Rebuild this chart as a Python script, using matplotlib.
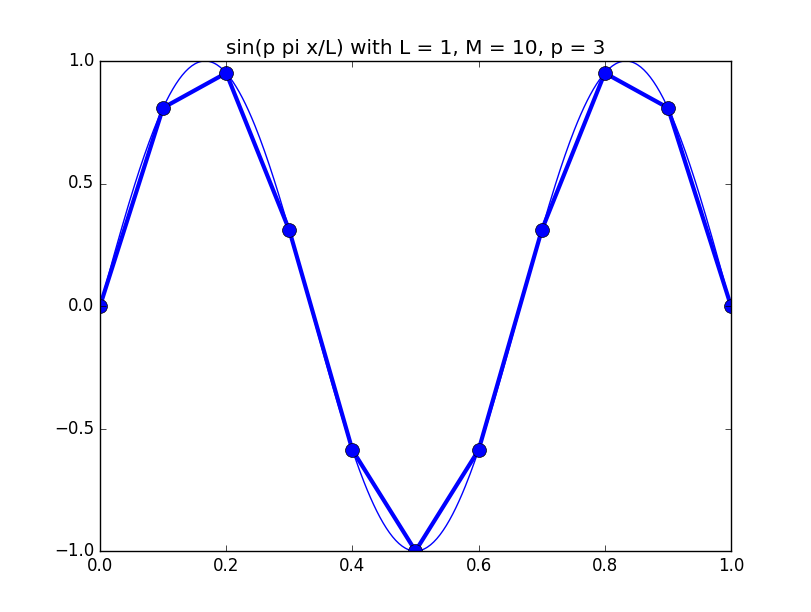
import numpy as np
import matplotlib
matplotlib.use("Agg")
import matplotlib.pyplot as plt

plt.style.use("classic")

L = 1
M = 10
p = 3
x_samples = [0.0, 0.1, 0.2, 0.3, 0.4, 0.5, 0.6, 0.7, 0.8, 0.9, 1.0]
y_samples = [0.0, 0.809, 0.951, 0.309, -0.588, -1.0, -0.588, 0.309, 0.951, 0.809, 0.0]

x_fine = np.linspace(0, L, 400)
y_fine = np.sin(p * np.pi * x_fine / L)

fig = plt.figure(figsize=(8.12, 6.12), dpi=100)
ax = fig.add_axes([100 / 812, 1 - 551 / 612, 631 / 812, 490 / 612])
ax.plot(x_fine, y_fine, color="b", lw=1)
ax.plot(x_samples, y_samples, color="b", lw=3, marker="o", markersize=10,
        markeredgecolor="k", markerfacecolor="b")
ax.set_xlim(0, 1)
ax.set_ylim(-1, 1)
ax.set_xticks([0.0, 0.2, 0.4, 0.6, 0.8, 1.0])
ax.set_yticks([-1.0, -0.5, 0.0, 0.5, 1.0])
ax.set_title(f"sin(p pi x/L) with L = {L}, M = {M}, p = {p}")
fig.savefig("out.png", dpi=100, facecolor="white")
